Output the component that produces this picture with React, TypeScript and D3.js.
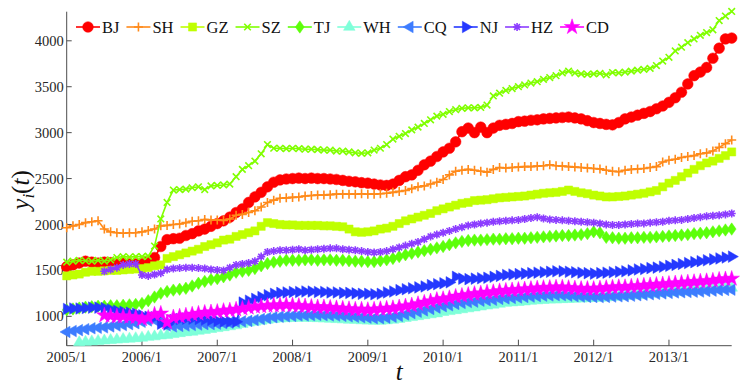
import React, { useEffect, useRef } from 'react';
import * as d3 from 'd3';

// monthly values, 2005/1 .. 2013/11 (107 months), one row per year
const BJ = [
  1540, 1560, 1580, 1600, 1590, 1580, 1590, 1585, 1575, 1580, 1570, 1570,
  1575, 1600, 1640, 1760, 1835, 1845, 1850, 1880, 1900, 1930, 1950, 1980,
  2010, 2040, 2080, 2130, 2170, 2240, 2300, 2350, 2410, 2460, 2485, 2495,
  2500, 2505, 2500, 2505, 2500, 2500, 2495, 2490, 2480, 2470, 2465, 2455,
  2450, 2440, 2430, 2425, 2440, 2480, 2520, 2540, 2590, 2650, 2690, 2740,
  2790, 2830, 2900, 3010, 3050, 3000, 3060, 3000, 3050, 3080, 3090, 3100,
  3120, 3125, 3135, 3140, 3150, 3155, 3160, 3165, 3170, 3160, 3150, 3130,
  3110, 3100, 3090, 3085, 3110, 3150, 3170, 3190, 3210, 3230, 3260, 3290,
  3330, 3380, 3440, 3530, 3620, 3660, 3710, 3810, 3920, 4020, 4030,
];
const SH = [
  1965, 1985, 2000, 2020, 2030, 2040, 1950, 1920, 1910, 1905, 1910, 1910,
  1920, 1935, 1950, 1985, 1990, 2000, 2005, 2020, 2035, 2040, 2055, 2050,
  2050, 2045, 2060, 2100, 2110, 2130, 2150, 2190, 2240, 2265, 2285, 2290,
  2295, 2300, 2310, 2315, 2320, 2320, 2325, 2330, 2330, 2330, 2330, 2335,
  2330, 2330, 2335, 2340, 2350, 2360, 2370, 2390, 2410, 2420, 2440, 2460,
  2490, 2540, 2580, 2590, 2600, 2590, 2580, 2570, 2600, 2620, 2615, 2620,
  2625, 2630, 2630, 2635, 2640, 2650, 2640, 2635, 2630, 2625, 2620, 2615,
  2610, 2605, 2590, 2580, 2575, 2590, 2600, 2605, 2610, 2620, 2630, 2680,
  2700, 2710, 2730, 2740, 2750, 2770, 2780, 2800, 2840, 2880, 2920,
];
const GZ = [
  1440, 1450, 1460, 1480, 1490, 1490, 1495, 1500, 1500, 1505, 1510, 1515,
  1520, 1530, 1550, 1560, 1630, 1650, 1670, 1690, 1710, 1730, 1760, 1780,
  1800, 1830, 1840, 1870, 1890, 1910, 1930, 1980, 2020, 2010, 2000, 1995,
  1995, 1990, 1990, 1990, 1990, 1985, 1985, 1980, 1975, 1950, 1920, 1915,
  1920, 1930, 1950, 1960, 1980, 2010, 2040, 2060, 2080, 2100, 2120, 2150,
  2170, 2190, 2210, 2230, 2240, 2260, 2265, 2270, 2280, 2290, 2295, 2300,
  2305, 2310, 2320, 2330, 2340, 2345, 2350, 2360, 2375, 2360, 2345, 2335,
  2320, 2310, 2300, 2300, 2305, 2310, 2320, 2330, 2340, 2355, 2370, 2410,
  2450, 2480, 2520, 2560, 2600, 2640, 2670, 2690, 2720, 2750, 2790,
];
const SZ = [
  1590, 1600, 1610, 1605, 1600, 1610, 1600, 1615, 1640, 1650, 1645, 1650,
  1650, 1655, 1765, 2060, 2240, 2375, 2380, 2385, 2400, 2410, 2380, 2420,
  2425, 2430, 2440, 2520, 2600, 2640, 2690, 2770, 2870, 2830, 2830, 2825,
  2830, 2825, 2820, 2820, 2815, 2810, 2810, 2800, 2800, 2790, 2780, 2775,
  2780, 2810, 2830, 2870, 2930, 2960, 2990, 3030, 3060, 3100, 3140, 3180,
  3200, 3230, 3250, 3265, 3270, 3270, 3275, 3300, 3400, 3430, 3460, 3480,
  3500, 3520, 3540, 3555, 3580, 3600, 3620, 3650, 3670, 3650, 3640, 3635,
  3640, 3645, 3630, 3655, 3650, 3660, 3670, 3680, 3690, 3700, 3730, 3780,
  3820, 3890, 3930, 3980, 4020, 4060, 4090, 4120, 4220, 4270, 4320,
];
const TJ = [
  1070, 1080, 1090, 1100, 1105, 1110, 1110, 1115, 1115, 1120, 1125, 1130,
  1140, 1170, 1210, 1250, 1270, 1285, 1295, 1305, 1330, 1360, 1380, 1400,
  1410, 1430, 1450, 1480, 1490, 1500, 1520, 1550, 1575, 1590, 1600, 1610,
  1610, 1610, 1615, 1615, 1610, 1615, 1615, 1610, 1610, 1605, 1600, 1600,
  1595, 1595, 1605, 1615, 1630, 1650, 1670, 1685, 1700, 1715, 1730, 1745,
  1760, 1780, 1800, 1815, 1825, 1830, 1830, 1835, 1840, 1840, 1845, 1845,
  1850, 1850, 1855, 1860, 1865, 1870, 1875, 1880, 1880, 1885, 1890, 1900,
  1920, 1910, 1860, 1855, 1850, 1850, 1855, 1855, 1860, 1860, 1865, 1870,
  1875, 1880, 1885, 1890, 1900, 1905, 1910, 1920, 1930, 1940, 1950,
];
const WH = [
  null, null, 715, 720, 725, 730, 735, 740, 745, 750, 755, 760,
  765, 775, 780, 790, 795, 805, 815, 825, 830, 840, 850, 860,
  870, 880, 890, 900, 915, 930, 940, 950, 960, 970, 975, 978,
  980, 982, 982, 980, 978, 975, 972, 968, 965, 962, 960, 955,
  952, 950, 950, 955, 960, 970, 980, 990, 1000, 1010, 1020, 1030,
  1045, 1055, 1065, 1075, 1085, 1095, 1105, 1115, 1125, 1135, 1145, 1150,
  1155, 1160, 1168, 1172, 1176, 1180, 1182, 1185, 1188, 1190, 1192, 1195,
  1198, 1200, 1205, 1210, 1215, 1220, 1225, 1230, 1238, 1245, 1250, 1255,
  1260, 1265, 1270, 1275, 1280, 1285, 1290, 1295, 1300, 1305, 1310,
];
const CQ = [
  830, 840, 850, 860, 870, 875, 880, 890, 900, 905, 915, 925,
  940, 955, 960, 960, 900, 890, 895, 900, 905, 910, 915, 915,
  920, 925, 930, 940, 945, 950, 960, 970, 980, 990, 995, 1000,
  1005, 1010, 1010, 1012, 1015, 1012, 1010, 1008, 1005, 1000, 995, 990,
  985, 980, 980, 985, 995, 1005, 1020, 1035, 1050, 1065, 1080, 1095,
  1110, 1120, 1135, 1145, 1155, 1160, 1170, 1175, 1180, 1190, 1195, 1200,
  1205, 1210, 1215, 1220, 1225, 1228, 1230, 1230, 1225, 1220, 1215, 1212,
  1210, 1210, 1212, 1215, 1218, 1220, 1225, 1230, 1235, 1240, 1245, 1250,
  1255, 1260, 1262, 1265, 1268, 1270, 1275, 1280, 1285, 1288, 1290,
];
const NJ = [
  1080, 1085, 1085, 1090, 1095, 1095, 1090, 1075, 1060, 1050, 1040, 1030,
  1010, 995, 990, 920, 910, 960, 970, 975, 975, 970, 965, 960,
  950, 945, 940, 940, 1150, 1170, 1190, 1210, 1230, 1245, 1255, 1260,
  1265, 1265, 1270, 1270, 1265, 1265, 1260, 1260, 1255, 1255, 1250, 1245,
  1245, 1240, 1245, 1260, 1270, 1285, 1295, 1305, 1315, 1325, 1340, 1350,
  1360, 1370, 1430, 1410, 1405, 1410, 1415, 1420, 1430, 1440, 1450, 1455,
  1460, 1465, 1470, 1475, 1480, 1485, 1490, 1490, 1485, 1480, 1475, 1470,
  1465, 1470, 1475, 1480, 1485, 1490, 1500, 1510, 1515, 1525, 1530, 1540,
  1550, 1560, 1570, 1580, 1590, 1600, 1610, 1620, 1630, 1640, 1650,
];
const HZ = [
  null, null, null, null, null, null, 1490, 1510, 1530, 1560, 1570, 1570,
  1450, 1440, 1455, 1470, 1510, 1520, 1525, 1530, 1530, 1525, 1520, 1510,
  1505, 1500, 1530, 1560, 1570, 1580, 1600, 1650, 1700, 1710, 1720, 1720,
  1725, 1730, 1720, 1725, 1730, 1735, 1740, 1740, 1730, 1725, 1720, 1710,
  1700, 1695, 1700, 1710, 1730, 1750, 1770, 1790, 1810, 1840, 1870, 1890,
  1910, 1930, 1950, 1970, 1990, 2000, 2010, 2020, 2030, 2035, 2040, 2045,
  2050, 2060, 2070, 2080, 2065, 2055, 2050, 2045, 2040, 2035, 2030, 2025,
  2020, 2010, 2000, 1995, 1995, 2000, 2005, 2010, 2012, 2020, 2025, 2030,
  2040, 2045, 2050, 2060, 2070, 2080, 2090, 2095, 2100, 2110, 2120,
];
const CD = [
  null, null, null, null, null, null, 1010, 1005, 1000, 1000, 995, 990,
  970, 985, 1020, 1030, 935, 990, 1000, 1010, 1020, 1030, 1040, 1045,
  1050, 1060, 1065, 1075, 1085, 1095, 1105, 1110, 1115, 1120, 1120, 1125,
  1120, 1115, 1110, 1105, 1100, 1100, 1095, 1090, 1085, 1080, 1075, 1075,
  1070, 1075, 1080, 1085, 1090, 1100, 1110, 1120, 1135, 1150, 1165, 1180,
  1190, 1200, 1215, 1225, 1235, 1245, 1250, 1260, 1265, 1275, 1280, 1285,
  1290, 1295, 1300, 1305, 1310, 1312, 1315, 1315, 1310, 1305, 1300, 1300,
  1300, 1305, 1310, 1315, 1320, 1320, 1325, 1330, 1335, 1340, 1345, 1350,
  1355, 1360, 1365, 1370, 1375, 1380, 1385, 1390, 1400, 1405, 1410,
];

const seriesNames = ['BJ', 'SH', 'GZ', 'SZ', 'TJ', 'WH', 'CQ', 'NJ', 'HZ', 'CD'];
const seriesValues = [BJ, SH, GZ, SZ, TJ, WH, CQ, NJ, HZ, CD];
const seriesColors = ['#ff0000', '#ff8a1a', '#bfff00', '#80ff00', '#5cff0a', '#7fffd9', '#3d7cff', '#2438ff', '#8c3dff', '#ff00ff'];
const seriesMarkers = ['o', '+', 's', 'x', 'd', '^', '<', '>', '*', 'p'];

const xTickMonths = [0, 12, 24, 36, 48, 60, 72, 84, 96];
const xTickLabels = ['2005/1', '2006/1', '2007/1', '2008/1', '2009/1', '2010/1', '2011/1', '2012/1', '2013/1'];
const yTicks = [1000, 1500, 2000, 2500, 3000, 3500, 4000];

const W = 747, H = 384;
const FONT = 'Liberation Serif, Times New Roman, Times, serif';

// marker path + whether it is filled
function markerShape(kind) {
  const tri = d3.symbol(d3.symbolTriangle, 58)();
  switch (kind) {
    case 'o': return { d: d3.symbol(d3.symbolCircle, 90)(), filled: true, rot: 0 };
    case 's': return { d: d3.symbol(d3.symbolSquare, 66)(), filled: true, rot: 0 };
    case 'd': return { d: 'M0,-6.2L4.4,0L0,6.2L-4.4,0Z', filled: true, rot: 0 };
    case '^': return { d: tri, filled: true, rot: 0 };
    case '<': return { d: tri, filled: true, rot: -90 };
    case '>': return { d: tri, filled: true, rot: 90 };
    case 'p': return { d: d3.symbol(d3.symbolStar, 75)(), filled: true, rot: 0 };
    case '+': return { d: 'M-4.5,0H4.5M0,-4.5V4.5', filled: false, rot: 0 };
    case 'x': return { d: 'M-3.3,-3.3L3.3,3.3M-3.3,3.3L3.3,-3.3', filled: false, rot: 0 };
    case '*': return { d: 'M-4,0H4M0,-4V4M-2.9,-2.9L2.9,2.9M-2.9,2.9L2.9,-2.9', filled: false, rot: 0 };
    default: return { d: '', filled: false, rot: 0 };
  }
}

const App = () => {
  const svgRef = useRef(null);

  useEffect(() => {
    const svg = d3.select(svgRef.current);
    svg.selectAll('*').remove();

    const x = d3.scaleLinear().domain([0, 106]).range([66.7, 731.7]);
    const y = d3.scaleLinear().domain([680, 4317]).range([345.7, 11.7]);

    const axisColor = '#4d4d4d';
    const textColor = '#262626';

    // axes lines
    svg.append('line').attr('x1', x(0)).attr('x2', x(0)).attr('y1', y(4317)).attr('y2', y(680))
      .attr('stroke', axisColor).attr('stroke-width', 1);
    svg.append('line').attr('x1', x(0)).attr('x2', x(106)).attr('y1', y(680)).attr('y2', y(680))
      .attr('stroke', axisColor).attr('stroke-width', 1);

    // y ticks
    const gy = svg.append('g');
    yTicks.forEach(v => {
      gy.append('line').attr('x1', x(0)).attr('x2', x(0) + 5).attr('y1', y(v)).attr('y2', y(v))
        .attr('stroke', axisColor);
      gy.append('text').attr('x', x(0) - 3).attr('y', y(v)).attr('dy', '0.35em')
        .attr('text-anchor', 'end').style('font-family', FONT).style('font-size', '14.5px')
        .attr('fill', textColor).text(v);
    });

    // x ticks
    const gx = svg.append('g');
    xTickMonths.forEach((m, i) => {
      gx.append('line').attr('x1', x(m)).attr('x2', x(m)).attr('y1', y(680)).attr('y2', y(680) - 6)
        .attr('stroke', axisColor);
      gx.append('text').attr('x', x(m)).attr('y', 361.5)
        .attr('text-anchor', 'middle').style('font-family', FONT).style('font-size', '14.5px')
        .attr('fill', textColor).text(xTickLabels[i]);
    });

    // series
    const line = d3.line()
      .defined(d => d != null)
      .x((d, i) => x(i))
      .y(d => y(d));

    seriesValues.forEach((vals, si) => {
      const color = seriesColors[si];
      const shape = markerShape(seriesMarkers[si]);
      const g = svg.append('g');
      g.append('path').datum(vals).attr('d', line)
        .attr('fill', 'none').attr('stroke', color).attr('stroke-width', 1.6);
      const pts = vals.map((v, i) => ({ v, i })).filter(p => p.v != null);
      g.selectAll('path.mk').data(pts).join('path')
        .attr('class', 'mk')
        .attr('d', shape.d)
        .attr('transform', p => `translate(${x(p.i)},${y(p.v)}) rotate(${shape.rot})`)
        .attr('fill', shape.filled ? color : 'none')
        .attr('stroke', color)
        .attr('stroke-width', shape.filled ? 0.5 : 1.6);
    });

    // legend
    const lg = svg.append('g');
    let cx = 76;
    const ly = 27;
    seriesNames.forEach((name, si) => {
      const color = seriesColors[si];
      const shape = markerShape(seriesMarkers[si]);
      lg.append('line').attr('x1', cx).attr('x2', cx + 24).attr('y1', ly).attr('y2', ly)
        .attr('stroke', color).attr('stroke-width', 1.6);
      lg.append('path').attr('d', shape.d)
        .attr('transform', `translate(${cx + 12},${ly}) rotate(${shape.rot})`)
        .attr('fill', shape.filled ? color : 'none').attr('stroke', color)
        .attr('stroke-width', shape.filled ? 0.5 : 1.6);
      const t = lg.append('text').attr('x', cx + 26).attr('y', ly + 5.6)
        .style('font-family', FONT).style('font-size', '16.5px').attr('fill', '#111').text(name);
      const tw = t.node().getComputedTextLength();
      cx += 26 + tw + 7;
    });

    // axis titles
    const yl = svg.append('text')
      .attr('transform', `translate(29,190) rotate(-90)`)
      .attr('text-anchor', 'middle')
      .style('font-family', FONT).style('font-size', '25px').attr('fill', '#111');
    yl.append('tspan').style('font-style', 'italic').text('y');
    yl.append('tspan').style('font-style', 'italic').style('font-size', '17px').attr('dy', 5).text('i');
    yl.append('tspan').attr('dy', -5).text('(');
    yl.append('tspan').style('font-style', 'italic').text('t');
    yl.append('tspan').text(')');

    svg.append('text').attr('x', x(53)).attr('y', 380)
      .attr('text-anchor', 'middle').style('font-family', FONT).style('font-size', '25px')
      .style('font-style', 'italic').attr('fill', '#111').text('t');
  }, []);

  return (
    <svg ref={svgRef} width={W} height={H}
      style={{ position: 'absolute', left: 0, top: 0, background: '#fff' }} />
  );
};

export default App;
